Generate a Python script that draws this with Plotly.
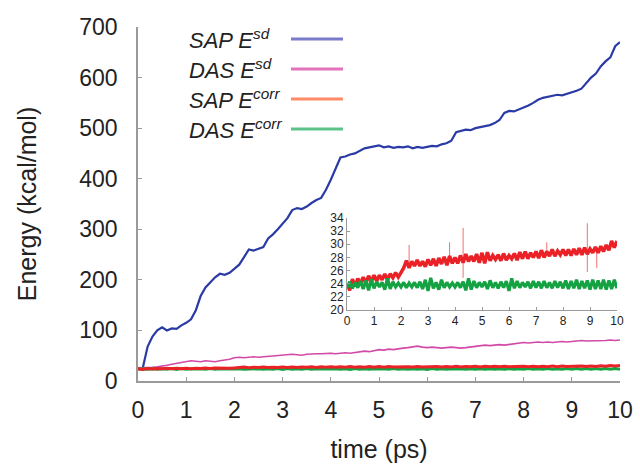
import plotly.graph_objects as go

# time axis (ps), 0.1 ps steps
time_ps = [round(i * 0.1, 1) for i in range(101)]

# SAP E^sd (kcal/mol)
sap_esd = [25, 26, 68, 88, 100, 106, 100, 104, 103, 110,
           115, 122, 140, 168, 185, 195, 205, 212, 210, 214,
           222, 230, 245, 260, 258, 262, 265, 282, 290, 300,
           310, 322, 338, 342, 340, 345, 352, 358, 362, 378,
           398, 420, 442, 444, 448, 450, 455, 460, 462, 464,
           466, 462, 464, 461, 463, 462, 464, 460, 463, 461,
           463, 465, 464, 468, 470, 475, 492, 495, 497, 496,
           500, 502, 504, 506, 510, 516, 530, 534, 533, 537,
           540, 545, 550, 556, 560, 562, 563, 566, 565, 568,
           570, 574, 578, 590, 600, 608, 622, 632, 640, 662, 670]

# DAS E^sd
das_esd = [26, 26, 27, 27, 28, 29, 31, 33, 35, 37,
           38, 40, 39, 38, 40, 39, 38, 40, 41, 43,
           46, 47, 46, 47, 48, 47, 48, 49, 50, 51,
           51, 52, 53, 52, 51, 53, 54, 54, 54, 55,
           55, 54, 55, 56, 55, 56, 57, 59, 58, 60,
           62, 61, 63, 62, 64, 65, 66, 68, 69, 67,
           66, 67, 66, 65, 66, 67, 66, 65, 66, 67,
           68, 70, 71, 70, 71, 72, 71, 72, 73, 74,
           76, 75, 76, 77, 76, 77, 76, 77, 78, 77,
           78, 79, 80, 79, 79, 80, 79, 80, 81, 80, 81]

# SAP E^corr
sap_ecorr = [24.0, 23.0, 24.7, 23.6, 24.8, 24.0, 25.0, 24.1, 25.2, 24.3,
             25.3, 24.4, 25.3, 24.6, 25.5, 24.6, 25.5, 24.9, 25.7, 25.0,
             25.7, 26.4, 27.5, 26.4, 27.4, 26.7, 27.6, 26.7, 27.4, 26.6,
             27.7, 26.8, 27.8, 26.7, 27.9, 27.0, 28.1, 26.8, 28.2, 27.1,
             28.0, 27.1, 28.3, 27.2, 28.5, 27.4, 28.2, 27.4, 28.5, 27.2,
             28.7, 27.1, 28.8, 27.5, 28.3, 27.7, 28.4, 27.5, 28.6, 27.6,
             28.3, 27.8, 28.6, 27.6, 28.8, 27.8, 28.9, 27.8, 28.7, 28.0,
             28.9, 27.9, 29.1, 28.0, 28.9, 28.2, 29.2, 28.2, 29.0, 28.4,
             29.2, 28.3, 29.2, 28.3, 29.3, 28.4, 29.4, 28.4, 29.5, 28.5,
             29.3, 28.7, 29.6, 28.7, 29.7, 28.9, 29.9, 29.1, 30.5, 29.5, 30.5]

# DAS E^corr
das_ecorr = [23.4, 24.3, 23.3, 24.2, 23.4, 24.4, 23.2, 24.5, 23.0, 24.7,
             23.3, 24.3, 23.5, 24.2, 23.1, 24.8, 23.2, 24.3, 23.5, 24.1,
             23.5, 24.2, 23.4, 24.1, 23.5, 24.2, 23.4, 24.3, 23.2, 24.6,
             22.9, 24.9, 23.3, 24.2, 23.1, 24.6, 23.4, 24.2, 23.5, 24.1,
             23.5, 24.2, 23.4, 24.3, 23.0, 24.8, 23.1, 24.4, 23.4, 24.2,
             23.5, 24.3, 23.2, 24.5, 23.4, 24.2, 23.3, 24.3, 23.4, 24.4,
             22.9, 24.8, 23.3, 24.4, 23.4, 24.2, 23.5, 24.3, 23.3, 24.4,
             23.4, 24.3, 23.3, 24.4, 23.4, 24.2, 23.3, 24.4, 23.4, 24.3,
             23.3, 24.5, 23.2, 24.4, 23.3, 24.6, 23.2, 24.4, 23.3, 24.5,
             23.1, 24.6, 23.2, 24.5, 23.2, 24.6, 23.1, 24.5, 23.2, 24.6, 23.3]

# occasional spikes in SAP E^corr (inset)
spike_t = [2.3, 2.3, None, 3.8, 3.8, None, 4.3, 4.3, None, 7.4, 7.4, None,
           8.9, 8.9, None, 9.25, 9.25]
spike_v = [26.8, 29.9, None, 27.3, 30.3, None, 24.9, 32.5, None, 28.2, 30.3, None,
           25.8, 33.2, None, 26.4, 29.0]

main_xticks = list(range(0, 11))
main_yticks = list(range(0, 701, 100))
inset_yticks = list(range(20, 35, 2))

legend_labels = ["<i>SAP E<sup>sd</sup></i>", "<i>DAS E<sup>sd</sup></i>",
                 "<i>SAP E<sup>corr</sup></i>", "<i>DAS E<sup>corr</sup></i>"]
legend_colors = ["#7b7bcc", "#e272b9", "#ff8a66", "#5cc28a"]

BLUE = "#2b3ba6"
PINK = "#d24aa8"
RED = "#ea2228"
GREEN = "#14a243"
AXC = "#9a9a9a"
FONT = "Liberation Sans, Arial, Helvetica, sans-serif"

fig = go.Figure()
fig.add_trace(go.Scatter(x=time_ps, y=sap_esd, mode="lines", line=dict(color=BLUE, width=2.2), xaxis="x", yaxis="y"))
fig.add_trace(go.Scatter(x=time_ps, y=das_esd, mode="lines", line=dict(color=PINK, width=1.6), xaxis="x", yaxis="y"))
fig.add_trace(go.Scatter(x=time_ps, y=das_ecorr, mode="lines", line=dict(color=GREEN, width=3), xaxis="x", yaxis="y"))
fig.add_trace(go.Scatter(x=time_ps, y=sap_ecorr, mode="lines", line=dict(color=RED, width=3), xaxis="x", yaxis="y"))

# inset
fig.add_trace(go.Scatter(x=spike_t, y=spike_v, mode="lines", line=dict(color="#f07070", width=1), xaxis="x2", yaxis="y2", connectgaps=False))
fig.add_trace(go.Scatter(x=time_ps, y=sap_ecorr, mode="lines", line=dict(color=RED, width=3.5), xaxis="x2", yaxis="y2"))
fig.add_trace(go.Scatter(x=time_ps, y=das_ecorr, mode="lines", line=dict(color=GREEN, width=3.2), xaxis="x2", yaxis="y2"))

L, R, T, B = 138, 20, 27, 83
W, H = 640, 464
pw, ph = W - L - R, H - T - B

def px(xp):
    return (xp - L) / pw

def py(yp):
    return (H - B - yp) / ph

shapes = []
annotations = []
rows_y = [39, 69, 99, 129]
for lab, col, yy in zip(legend_labels, legend_colors, rows_y):
    annotations.append(dict(text=lab, x=px(187), y=py(yy), xref="paper", yref="paper",
                            xanchor="left", yanchor="middle", showarrow=False,
                            font=dict(family=FONT, size=22, color="#222")))
    shapes.append(dict(type="line", xref="paper", yref="paper", x0=px(291), x1=px(343),
                       y0=py(yy), y1=py(yy), line=dict(color=col, width=3)))

fig.update_layout(
    width=W, height=H,
    margin=dict(l=L, r=R, t=T, b=B),
    paper_bgcolor="white", plot_bgcolor="white",
    showlegend=False,
    font=dict(family=FONT, color="#222"),
    shapes=shapes, annotations=annotations,
    xaxis=dict(range=[0, 10], tickvals=main_xticks, ticks="inside", ticklen=4, tickcolor=AXC,
               showline=True, linecolor=AXC, linewidth=1.5, showgrid=False, zeroline=False,
               tickfont=dict(size=23, color="#222"), ticklabelstandoff=8, automargin=False,
               title=dict(text="time (ps)", font=dict(size=25, color="#222"), standoff=18)),
    yaxis=dict(range=[0, 700], tickvals=main_yticks, ticks="inside", ticklen=4, tickcolor=AXC,
               showline=True, linecolor=AXC, linewidth=1.5, showgrid=False, zeroline=False,
               tickfont=dict(size=23, color="#222"), ticklabelstandoff=14, automargin=False,
               title=dict(text="Energy (kcal/mol)", font=dict(size=25, color="#222"), standoff=36)),
    xaxis2=dict(domain=[px(347), px(617)], anchor="y2", range=[0, 10], tickvals=main_xticks,
                ticks="inside", ticklen=3, tickcolor=AXC, showline=True, linecolor=AXC, linewidth=1,
                showgrid=False, zeroline=False, tickfont=dict(size=12, color="#222"), automargin=False),
    yaxis2=dict(domain=[py(310), py(218)], anchor="x2", range=[20, 34], tickvals=inset_yticks,
                ticks="inside", ticklen=3, tickcolor=AXC, showline=True, linecolor=AXC, linewidth=1,
                showgrid=False, zeroline=False, tickfont=dict(size=12, color="#222"), automargin=False),
)

fig.write_html("out.html")
